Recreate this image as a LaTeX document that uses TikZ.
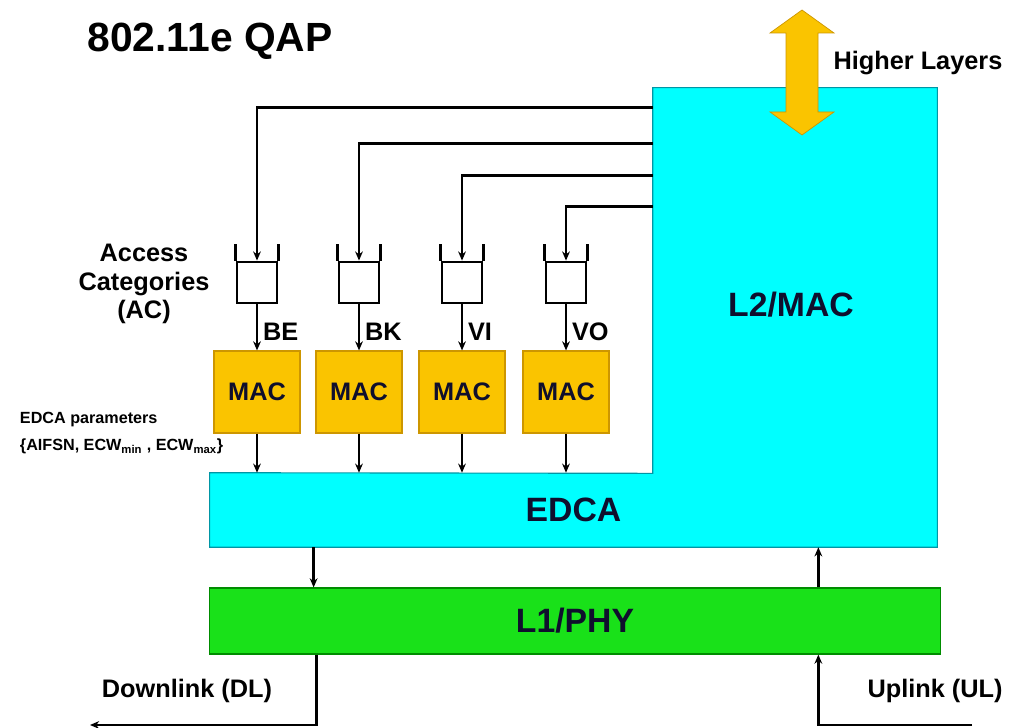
\documentclass[tikz,border=0pt]{standalone}
\usepackage{fontspec}
\setmainfont{Liberation Sans}
\usepackage{tikz}
\usetikzlibrary{arrows.meta,calc}
\definecolor{l2cyan}{RGB}{0,255,255}
\definecolor{l2line}{RGB}{0,150,165}
\definecolor{macgold}{RGB}{250,196,0}
\definecolor{macline}{RGB}{205,150,0}
\definecolor{phygreen}{RGB}{25,225,25}
\definecolor{phyline}{RGB}{0,140,0}
\definecolor{txtdark}{RGB}{15,15,45}
\newcommand{\qwalls}[1]{\draw[line width=2pt] (#1.north west) -- ++(0,-17) (#1.north east) -- ++(0,-17);}

\begin{document}
\begin{tikzpicture}[x=0.025cm,y=-0.025cm,
    box/.style={rectangle,inner sep=0pt},
    title/.style={font=\fontsize{29}{34}\selectfont\bfseries},
    big/.style={font=\fontsize{24}{28}\selectfont\bfseries,text=txtdark},
    lab/.style={font=\fontsize{18}{20.3}\selectfont\bfseries},
    small/.style={font=\fontsize{11.5}{19.2}\selectfont\bfseries},
    bucket/.style={draw,line width=2pt,minimum width=1cm,minimum height=1.025cm,inner sep=0pt},
    mac/.style={box,fill=macgold,draw=macline,line width=0.8pt,minimum width=2.15cm,minimum height=2.05cm,lab,text=txtdark},
    conn/.style={-{Stealth[length=6.5pt,width=5.5pt]},line width=2pt}]
    \useasboundingbox (0,0) rectangle (1011,728);

    \node[box,fill=l2cyan,minimum width=7.1cm,minimum height=9.625cm] (9) at (795,280.5) {};
    \node[box,fill=l2cyan,minimum width=18.175cm,minimum height=1.85cm,big] (10) at (573.5,510) {EDCA};
    \draw[draw=l2line,line width=0.8pt] (10.north west) -- (9.south west) -- (9.north west) -- (9.north east) -- (10.south east) -- (10.south west) -- cycle;
    \node[big] (12) at (791,305) {L2/MAC};
    \node[box,fill=phygreen,draw=phyline,line width=0.8pt,minimum width=18.25cm,minimum height=1.65cm,big] (11) at (575,621) {L1/PHY};

    % higher layers
    \fill[macgold,draw=macline,line width=0.5pt] (802,10) -- (834,33) -- (818,33) -- (818,112) -- (834,112) -- (802,135) -- (770,112) -- (786,112) -- (786,33) -- (770,33) -- cycle;
    \node[lab] (13) at (918,63) {Higher Layers};
    \node[title] (0) at (210,41) {802.11e QAP};

    \node[bucket] (1) at (257,282.5) {};
    \node[bucket] (2) at (359,282.5) {};
    \node[bucket] (3) at (462,282.5) {};
    \node[bucket] (4) at (566,282.5) {};
    \qwalls{1} \qwalls{2} \qwalls{3} \qwalls{4}

    \node[mac] (5) at (257,392) {MAC};
    \node[mac] (6) at (359,392) {MAC};
    \node[mac] (7) at (462,392) {MAC};
    \node[mac] (8) at (566,392) {MAC};

    \node[lab,align=center] (14) at (144,284) {Access\\Categories\\(AC)};
    \node[small,align=left,anchor=west] (15) at (15,433) {EDCA parameters\\\{AIFSN, ECW\textsubscript{min} , ECW\textsubscript{max}\}};
    \node[lab] (16) at (187,691) {Downlink (DL)};
    \node[lab] (17) at (935,691) {Uplink (UL)};
    \coordinate (18) at (90,725);
    \coordinate (19) at (972,725);
    \coordinate (20) at ($(10.south west)+(104,0)$);
    \coordinate (21) at ($(11.north west)+(609,0)$);
    \coordinate (22) at ($(11.south west)+(107,0)$);
    \coordinate (23) at ($(11.south west)+(609,0)$);

    \draw[conn] ($(9.north west)+(0,20)$) -| (1.north);
    \draw[conn] ($(9.north west)+(0,56)$) -| (2.north);
    \draw[conn] ($(9.north west)+(0,88)$) -| (3.north);
    \draw[conn] ($(9.north west)+(0,119)$) -| (4.north);

    \path[conn]
    (1) edge node [lab,right,pos=0.6] {BE} (5)
    (2) edge node [lab,right,pos=0.6] {BK} (6)
    (3) edge node [lab,right,pos=0.6] {VI} (7)
    (4) edge node [lab,right,pos=0.6] {VO} (8);

    \draw[conn] (5.south) -- (5.south |- 10.north);
    \draw[conn] (6.south) -- (6.south |- 10.north);
    \draw[conn] (7.south) -- (7.south |- 10.north);
    \draw[conn] (8.south) -- (8.south |- 10.north);

    \draw[conn] (20) -- (20 |- 11.north);
    \draw[conn] (21) -- (21 |- 10.south);
    \draw[conn] (22) |- (18);
    \draw[conn] (19) -| (23);
\end{tikzpicture}
\end{document}
